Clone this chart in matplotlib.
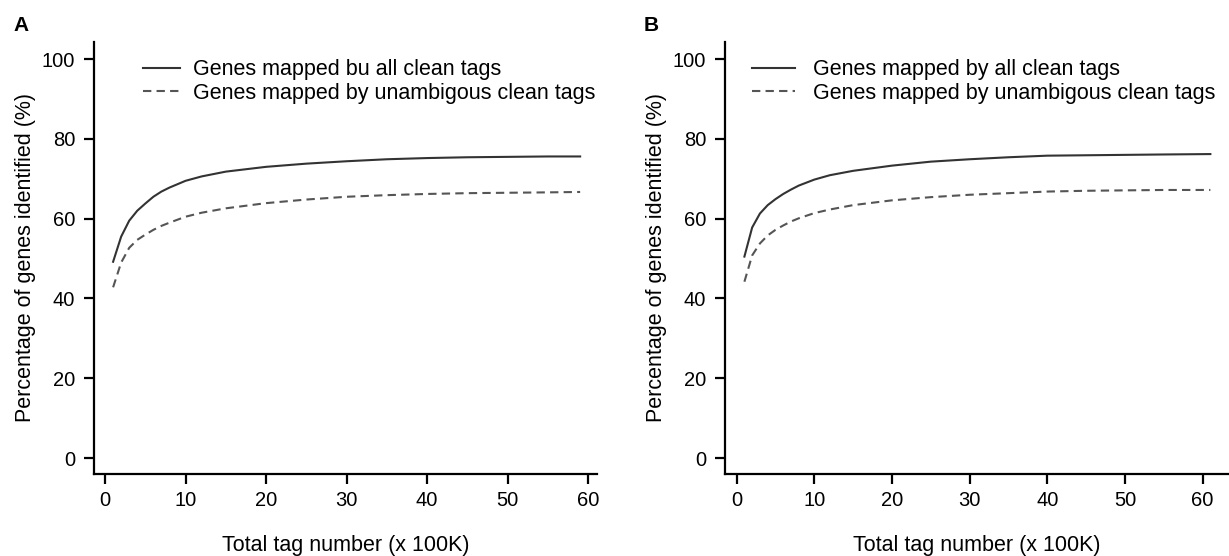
import matplotlib
matplotlib.use('Agg')
import matplotlib.pyplot as plt

plt.rcParams['font.family'] = ['Liberation Sans', 'DejaVu Sans']

# total tags (x 100K)
x_a = [1, 2, 3, 4, 5, 6, 7, 8, 10, 12, 15, 20, 25, 30, 35, 40, 45, 50, 55, 59]
all_a = [49.2, 55.5, 59.5, 62.0, 63.8, 65.5, 66.8, 67.8, 69.5, 70.6, 71.8, 73.0,
         73.8, 74.4, 74.9, 75.2, 75.4, 75.5, 75.6, 75.6]
unamb_a = [42.8, 49.0, 52.7, 54.7, 56.0, 57.2, 58.2, 59.0, 60.5, 61.5, 62.6, 63.9,
           64.8, 65.5, 65.9, 66.2, 66.4, 66.5, 66.6, 66.7]

x_b = [1, 2, 3, 4, 5, 6, 7, 8, 10, 12, 15, 20, 25, 30, 35, 40, 45, 50, 55, 61]
all_b = [50.5, 57.8, 61.3, 63.4, 64.9, 66.2, 67.3, 68.3, 69.8, 70.9, 72.0, 73.3,
         74.3, 74.9, 75.4, 75.8, 75.9, 76.0, 76.1, 76.2]
unamb_b = [44.2, 50.8, 53.8, 55.8, 57.2, 58.3, 59.3, 60.1, 61.4, 62.3, 63.4, 64.6,
           65.4, 66.0, 66.4, 66.8, 67.0, 67.1, 67.2, 67.2]

xticks = [0, 10, 20, 30, 40, 50, 60]
yticks = [0, 20, 40, 60, 80, 100]

# letter, axes rect, xlim, data, legend label, legend x, handle length, text pad
panels = [
    ('A', [0.0765, 0.1475, 0.4093, 0.777], (-1.37, 61.1), x_a, all_a, unamb_a,
     'Genes mapped bu all clean tags', 0.097, 1.72, 0.6, 0.0106),
    ('B', [0.5899, 0.1475, 0.4101, 0.777], (-1.5, 63.4), x_b, all_b, unamb_b,
     'Genes mapped by all clean tags', 0.054, 2.0, 0.84, 0.5236),
]

fig = plt.figure(figsize=(12.29, 5.56), dpi=100)

for letter, rect, xlim, x, y_all, y_unamb, label_all, lx, hl, htp, tx in panels:
    ax = fig.add_axes(rect)
    ax.plot(x, y_all, color='#333333', lw=1.5, label=label_all)
    ax.plot(x, y_unamb, color='#555555', lw=1.5, ls=(0, (4, 2.5)),
            label='Genes mapped by unambigous clean tags')
    ax.set_xlim(*xlim)
    ax.set_ylim(-4.0, 104.3)
    ax.set_xticks(xticks)
    ax.set_yticks(yticks)
    for s in ['top', 'right']:
        ax.spines[s].set_visible(False)
    for s in ['left', 'bottom']:
        ax.spines[s].set_linewidth(1.6)
    ax.tick_params(width=1.6, length=7.5, labelsize=14.5)
    ax.tick_params(axis='x', pad=5)
    ax.tick_params(axis='y', pad=6)
    ax.set_xlabel('Total tag number (x 100K)', fontsize=15.5, labelpad=18)
    ax.set_ylabel('Percentage of genes identified (%)', fontsize=15.5, labelpad=4)
    ax.legend(loc='upper left', bbox_to_anchor=(lx, 0.96), frameon=False,
              fontsize=15.5, handlelength=hl, handletextpad=htp,
              labelspacing=0.12, borderpad=0, borderaxespad=0)
    fig.text(tx, 0.955, letter, fontsize=15, fontweight='bold',
             va='center', ha='left')

fig.savefig('out.png', dpi=100)
